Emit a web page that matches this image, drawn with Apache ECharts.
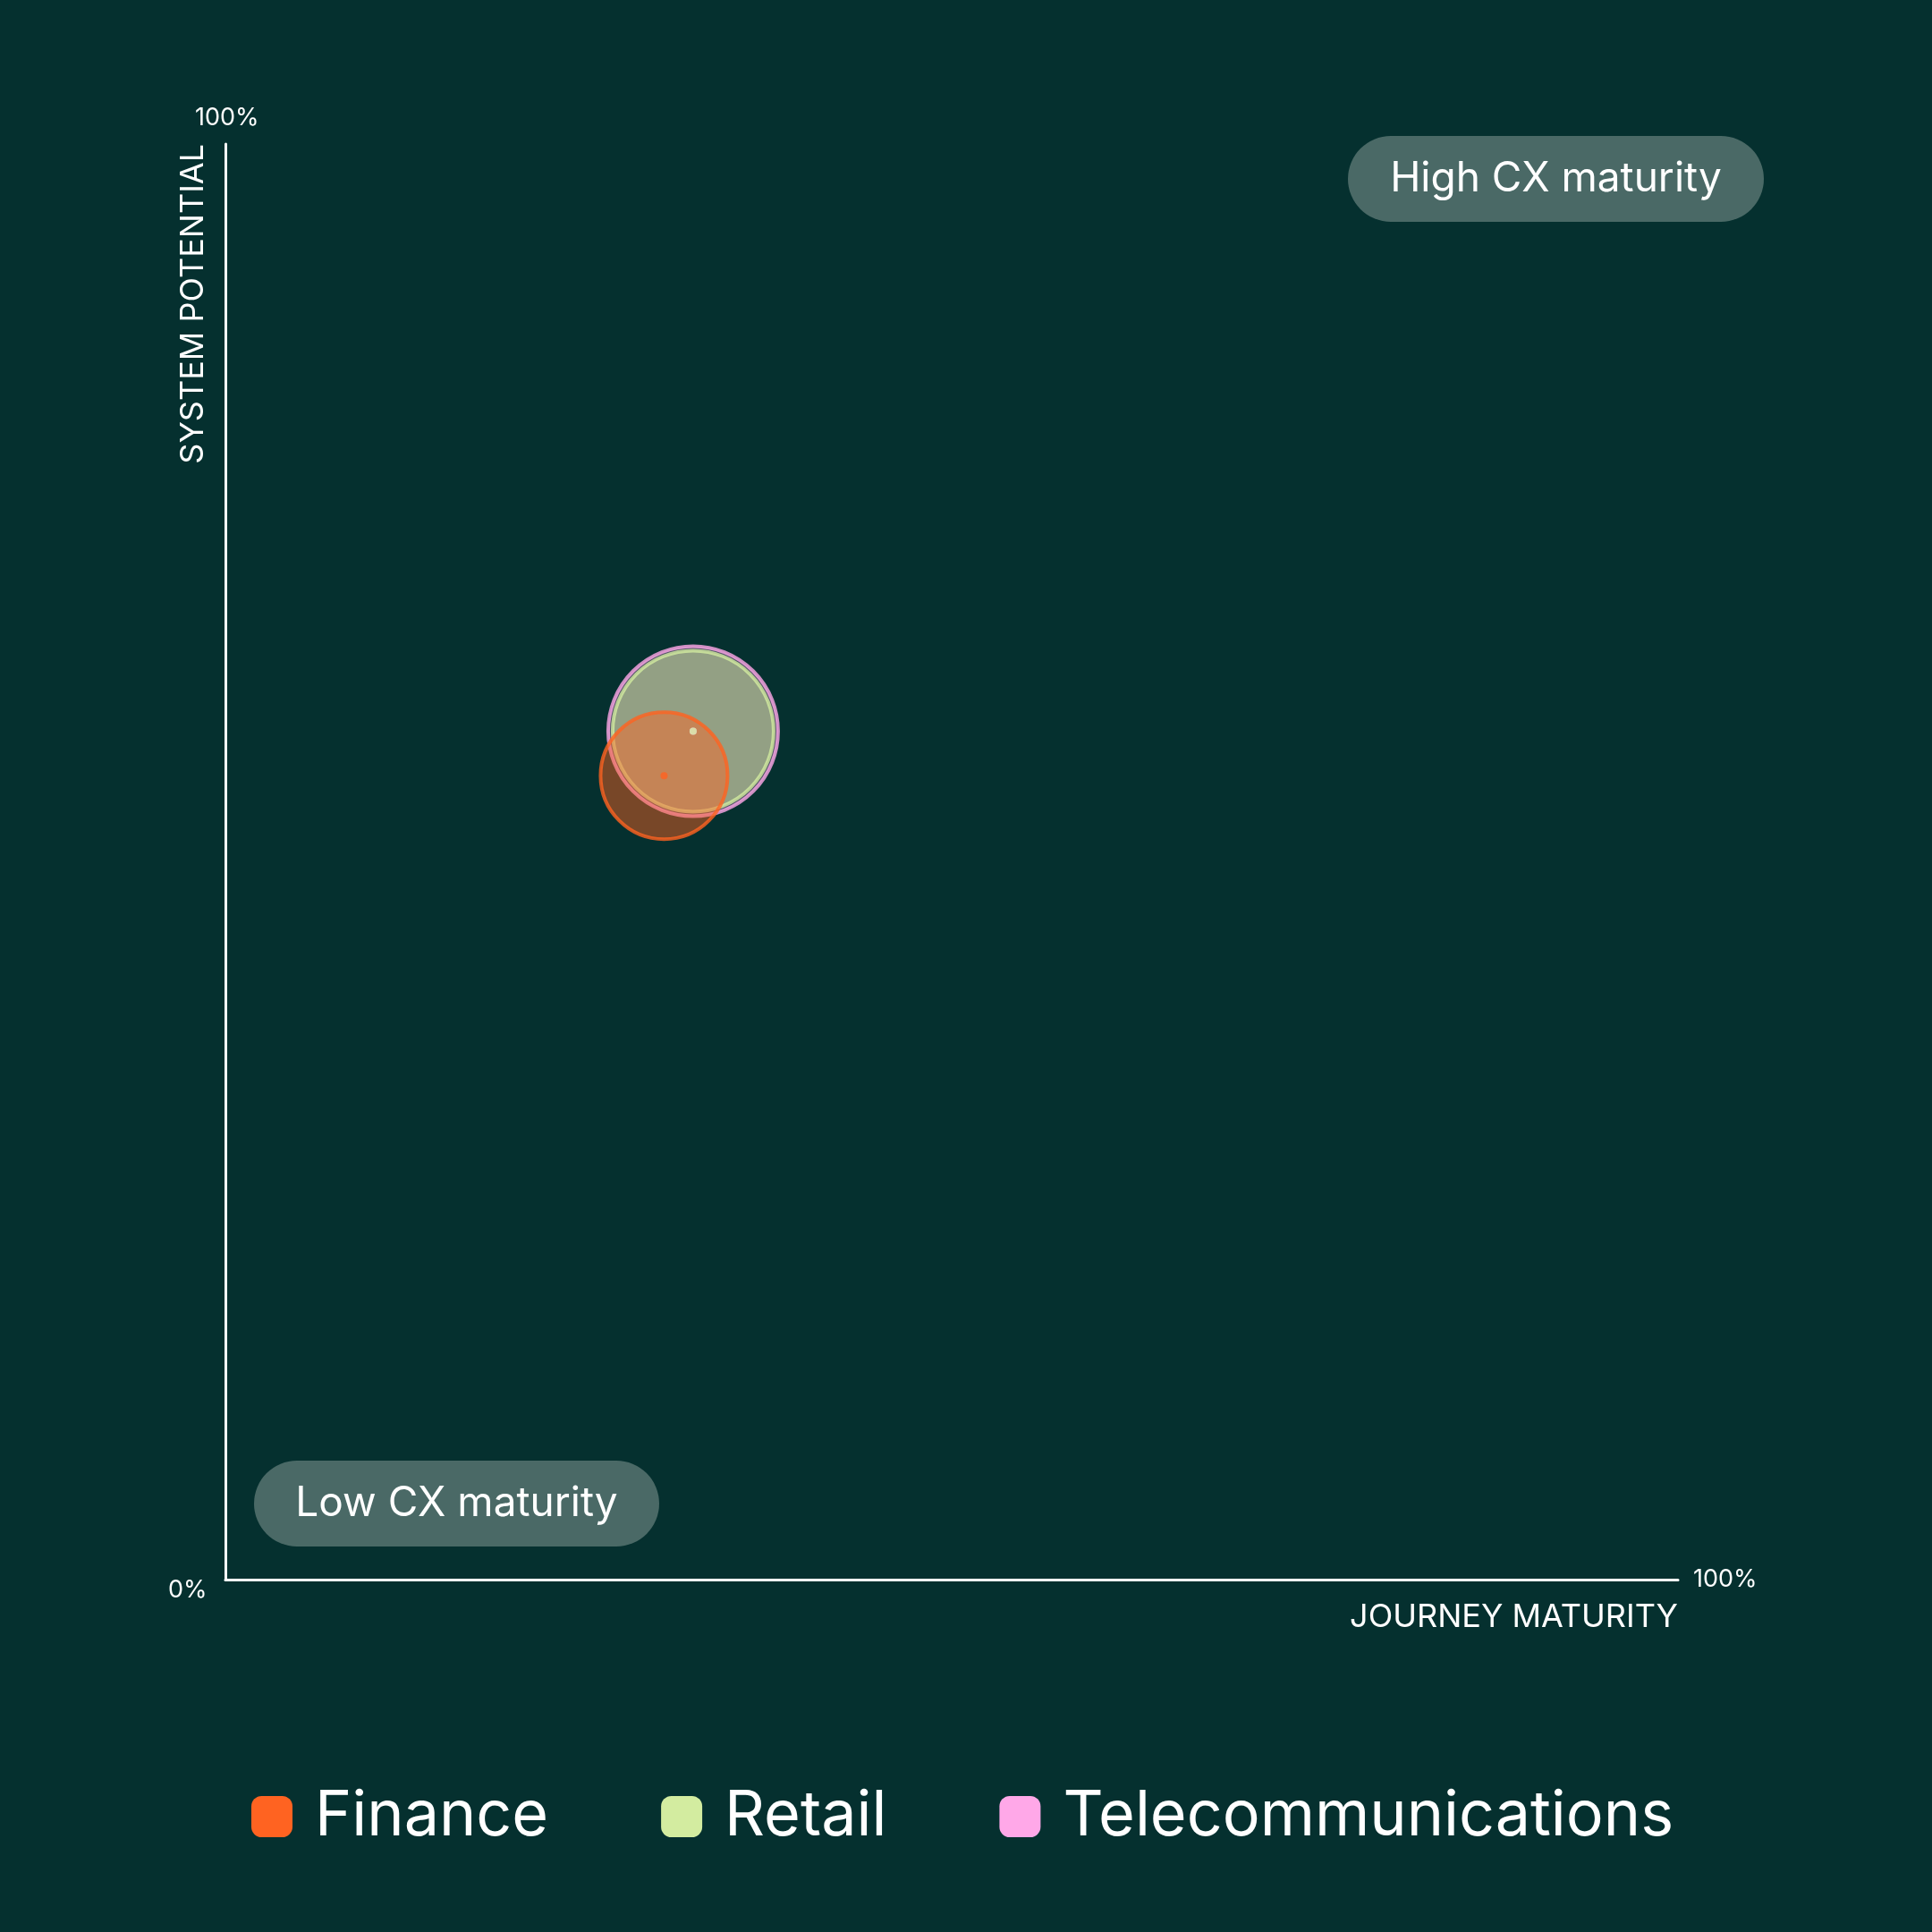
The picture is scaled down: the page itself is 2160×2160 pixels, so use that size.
<!DOCTYPE html>
<html>
<head>
<meta charset="utf-8">
<script src="https://cdn.jsdelivr.net/npm/echarts@6/dist/echarts.min.js"></script>
<style>
  html, body { margin: 0; padding: 0; background: #05302f; }
  #chart { width: 2160px; height: 2160px; }
</style>
</head>
<body>
<div id="chart"></div>
<script>
// sectors and their positions (journey maturity %, system potential %)
const sectors = ['Telecommunications', 'Retail', 'Finance'];
const journeyMaturity = [32.2, 32.2, 30.2];
const systemPotential = [59.1, 59.1, 56.0];
const bubbleSize = [190, 180, 142];
const colors = { Finance: '#ff6321', Retail: '#d3eca0', Telecommunications: '#ffa8e8' };
const fillOpacity = { Finance: 0.58, Retail: 0.62, Telecommunications: 0.4 };
const legendOrder = ['Finance', 'Retail', 'Telecommunications'];

const font = 'Inter, "Noto Sans", sans-serif';
const chart = echarts.init(document.getElementById('chart'));

const bubbleSeries = sectors.map((name, i) => ({
  name,
  type: 'scatter',
  z: 2 + i,
  data: [[journeyMaturity[i], systemPotential[i]]],
  symbolSize: bubbleSize[i],
  itemStyle: {
    color: echarts.color.modifyAlpha(colors[name], fillOpacity[name]),
    borderColor: colors[name],
    borderWidth: 4,
  },
}));

const dotSeries = sectors.map((name, i) => ({
  name: name + ' centre',
  type: 'scatter',
  z: 10 + i,
  data: [[journeyMaturity[i], systemPotential[i]]],
  symbolSize: 8,
  itemStyle: { color: colors[name] },
}));

const pill = (left, top, width, text) => ({
  type: 'group',
  left,
  top,
  children: [
    { type: 'rect', shape: { x: 0, y: 0, width, height: 96, r: 48 }, style: { fill: '#4a6966' } },
    {
      type: 'text',
      style: { text, x: width / 2, y: 48, fill: '#ffffff', font: '46px ' + font, align: 'center', verticalAlign: 'middle' },
    },
  ],
});

const option = {
  backgroundColor: '#05302f',
  animation: false,
  grid: { left: 252, top: 161, width: 1624, height: 1605 },
  xAxis: {
    type: 'value', min: 0, max: 100,
    axisLine: { lineStyle: { color: '#ffffff', width: 3 } },
    axisTick: { show: false }, axisLabel: { show: false }, splitLine: { show: false },
  },
  yAxis: {
    type: 'value', min: 0, max: 100,
    axisLine: { show: true, lineStyle: { color: '#ffffff', width: 3 } },
    axisTick: { show: false }, axisLabel: { show: false }, splitLine: { show: false },
  },
  legend: {
    left: 276,
    top: 1991,
    itemWidth: 46,
    itemHeight: 46,
    itemGap: 126,
    icon: 'roundRect',
    textStyle: { color: '#ffffff', fontSize: 70, fontFamily: font, padding: [0, 0, 0, 20] },
    data: legendOrder.map(name => ({ name, itemStyle: { color: colors[name], borderWidth: 0, opacity: 1 } })),
  },
  graphic: [
    pill(1507, 152, 465, 'High CX maturity'),
    pill(284, 1633, 453, 'Low CX maturity'),
    { type: 'text', left: 218, top: 118, style: { text: '100%', fill: '#fff', font: '27px ' + font } },
    { type: 'text', left: 188, top: 1764, style: { text: '0%', fill: '#fff', font: '27px ' + font } },
    { type: 'text', left: 1893, top: 1752, style: { text: '100%', fill: '#fff', font: '27px ' + font } },
    { type: 'text', right: 284, top: 1790, style: { text: 'JOURNEY MATURITY', fill: '#fff', font: '36px ' + font } },
    {
      type: 'text', x: 216, y: 161, rotation: Math.PI / 2,
      style: { text: 'SYSTEM POTENTIAL', fill: '#fff', font: '36px ' + font, align: 'right', verticalAlign: 'middle' },
    },
  ],
  series: [...bubbleSeries, ...dotSeries],
};

chart.setOption(option);
</script>
</body>
</html>
